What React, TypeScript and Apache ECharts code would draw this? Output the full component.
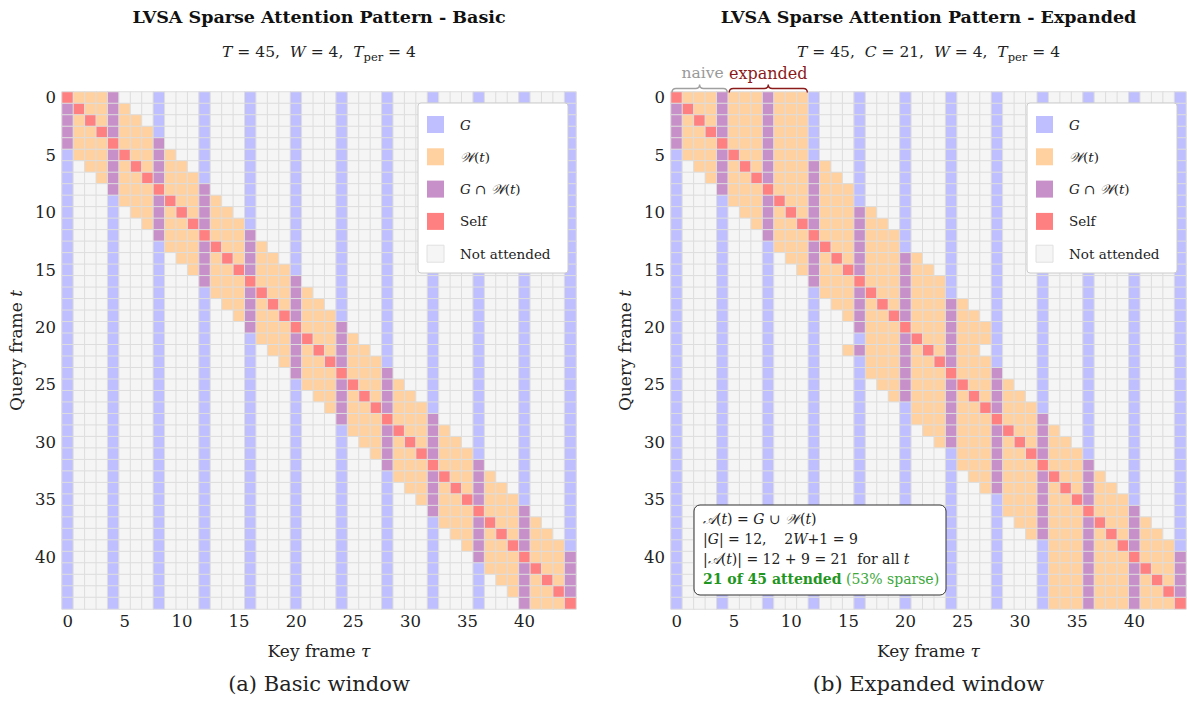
import React, { useEffect, useRef } from "react";
import * as echarts from "echarts";

// ---------- data ----------
const frameLabels: string[] = Array.from({ length: 45 }, (_, i) => String(i));
const tickLabels = ["0", "5", "10", "15", "20", "25", "30", "35", "40"];
const globalFrames = [0, 4, 8, 12, 16, 20, 24, 28, 32, 36, 40, 44];

// basic window [t-W, t+W] clipped, per query frame t
const basicStart = [0, 0, 0, 0, 0, 1, 2, 3, 4, 5, 6, 7, 8, 9, 10, 11, 12, 13, 14, 15, 16, 17, 18, 19, 20, 21, 22, 23, 24, 25, 26, 27, 28, 29, 30, 31, 32, 33, 34, 35, 36, 37, 38, 39, 40];
const basicEnd = [4, 5, 6, 7, 8, 9, 10, 11, 12, 13, 14, 15, 16, 17, 18, 19, 20, 21, 22, 23, 24, 25, 26, 27, 28, 29, 30, 31, 32, 33, 34, 35, 36, 37, 38, 39, 40, 41, 42, 43, 44, 44, 44, 44, 44];

// expanded window, per query frame t
const expandedStart = [0, 0, 0, 0, 0, 1, 2, 3, 4, 5, 6, 7, 8, 9, 10, 11, 12, 13, 14, 15, 16, 17, 15, 17, 17, 18, 19, 21, 21, 22, 23, 25, 25, 26, 27, 29, 29, 30, 31, 33, 33, 33, 33, 33, 33];
const expandedEnd = [11, 11, 11, 11, 11, 11, 13, 14, 15, 15, 17, 18, 19, 19, 21, 22, 23, 23, 25, 26, 27, 27, 26, 27, 28, 29, 30, 31, 32, 33, 34, 35, 36, 37, 38, 39, 40, 41, 42, 43, 44, 44, 44, 44, 44];

const legendLabels = ["{i|G}", "{c|𝒲}({i|t})", "{i|G} ∩ {c|𝒲}({i|t})", "Self", "Not attended"];
const cellColors = ["#f5f5f5", "#bfbfff", "#ffd0a0", "#c890c8", "#ff8080"]; // none, G, W, G∩W, self
const legendOrder = [1, 2, 3, 4, 0];

const FONT = "'DejaVu Serif', 'Liberation Serif', 'DejaVu Sans', serif";

// ---------- layout ----------
const grids = [
  { left: 62, top: 92, width: 514, height: 517 },
  { left: 671, top: 92, width: 515, height: 517 },
];

function buildCells(start: number[], end: number[]) {
  const out: number[][] = [];
  for (let t = 0; t < frameLabels.length; t++) {
    for (let k = 0; k < frameLabels.length; k++) {
      const g = globalFrames.includes(k);
      const w = k >= start[t] && k <= end[t];
      const code = k === t ? 4 : g && w ? 3 : g ? 1 : w ? 2 : 0;
      out.push([k, t, code]);
    }
  }
  return out;
}

function bracePath(x0: number, x1: number, y: number, h: number) {
  const xm = (x0 + x1) / 2;
  return (
    `M${x0} ${y + h} Q${x0} ${y} ${x0 + h} ${y} L${xm - h} ${y} Q${xm} ${y} ${xm} ${y - h} ` +
    `Q${xm} ${y} ${xm + h} ${y} L${x1 - h} ${y} Q${x1} ${y} ${x1} ${y + h}`
  );
}

const g2 = grids[1];
const cw2 = g2.width / frameLabels.length;
echarts.graphic.registerShape(
  "braceNaive",
  echarts.graphic.extendPath(bracePath(g2.left + 1, g2.left + 5 * cw2 - 1, 88.5, 4), {})
);
echarts.graphic.registerShape(
  "braceExpanded",
  echarts.graphic.extendPath(bracePath(g2.left + 5 * cw2 + 1, g2.left + 12 * cw2 - 1, 88.5, 4), {})
);

const mathRich = (size: number, color = "#222") => ({
  i: { fontStyle: "italic" as const, fontFamily: FONT, fontSize: size, fill: color, lineHeight: size + 6 },
  c: { fontStyle: "italic" as const, fontFamily: FONT, fontSize: size, fill: color, lineHeight: size + 6 },
  s: { fontFamily: FONT, fontSize: size - 4, fill: color, lineHeight: size - 2, verticalAlign: "bottom" as const },
});

function textEl(x: number, y: number, text: string, size: number, opts: any = {}) {
  return {
    type: "text",
    x,
    y,
    z: 100,
    silent: true,
    style: {
      text,
      fontFamily: FONT,
      fontSize: size,
      fontWeight: opts.bold ? "bold" : "normal",
      fill: opts.color || "#222",
      align: opts.align || "center",
      verticalAlign: "middle",
      lineHeight: size + 6,
      rich: opts.rich || mathRich(size, opts.color || "#222"),
    },
  };
}

function legendGroup(boxLeft: number) {
  const top = 103;
  const children: any[] = [
    {
      type: "rect",
      z: 100,
      shape: { x: boxLeft, y: top, width: 150, height: 170, r: 3 },
      style: { fill: "#ffffff", stroke: "#cccccc", lineWidth: 1 },
    },
  ];
  legendOrder.forEach((code, i) => {
    const cy = top + 21.5 + i * 32.3;
    children.push({
      type: "rect",
      z: 101,
      shape: { x: boxLeft + 9, y: cy - 8.5, width: 17, height: 17 },
      style: { fill: cellColors[code], stroke: code === 0 ? "#e0e0e0" : "none", lineWidth: 1 },
    });
    const t = textEl(boxLeft + 42, cy, legendLabels[i], 13.5, { align: "left" });
    t.z = 101;
    children.push(t);
  });
  return { type: "group", z: 100, silent: true, children };
}

function buildOption() {
  const cellsA = buildCells(basicStart, basicEnd);
  const cellsB = buildCells(expandedStart, expandedEnd);
  const centers = grids.map((g) => g.left + g.width / 2);

  const axisNameStyle = {
    fontFamily: FONT,
    fontSize: 17,
    color: "#222",
    rich: { i: { fontStyle: "italic" as const, fontFamily: FONT, fontSize: 17, color: "#222" } },
  };

  const infoSize = 14;

  return {
    animation: false,
    backgroundColor: "#ffffff",
    grid: grids.map((g) => ({ ...g, containLabel: false })),
    xAxis: grids.map((_, i) => ({
      type: "category",
      gridIndex: i,
      data: frameLabels,
      axisLine: { show: false },
      axisTick: { show: false },
      splitLine: { show: false },
      axisLabel: {
        interval: (_idx: number, value: string) => tickLabels.includes(value),
        fontFamily: FONT,
        fontSize: 16.5,
        color: "#222",
        margin: 4,
      },
      name: "Key frame {i|τ}",
      nameLocation: "middle",
      nameGap: 33,
      nameTextStyle: axisNameStyle,
    })),
    yAxis: grids.map((_, i) => ({
      type: "category",
      gridIndex: i,
      inverse: true,
      data: frameLabels,
      axisLine: { show: false },
      axisTick: { show: false },
      splitLine: { show: false },
      axisLabel: {
        interval: (_idx: number, value: string) => tickLabels.includes(value),
        fontFamily: FONT,
        fontSize: 16.5,
        color: "#222",
        margin: 6,
      },
      name: "Query frame {i|t}",
      nameLocation: "middle",
      nameGap: 38,
      nameRotate: 90,
      nameTextStyle: axisNameStyle,
    })),
    visualMap: [
      {
        type: "piecewise",
        show: false,
        dimension: 2,
        seriesIndex: [0, 1],
        pieces: cellColors.map((c, i) => ({ value: i, color: c })),
      },
    ],
    series: [cellsA, cellsB].map((d, i) => ({
      type: "heatmap",
      xAxisIndex: i,
      yAxisIndex: i,
      data: d,
      silent: true,
      itemStyle: { borderColor: "#dddddd", borderWidth: 1 },
      emphasis: { disabled: true },
    })),
    graphic: [
      textEl(centers[0], 17, "LVSA Sparse Attention Pattern - Basic", 17.5, { bold: true, color: "#111" }),
      textEl(centers[1], 17, "LVSA Sparse Attention Pattern - Expanded", 17.5, { bold: true, color: "#111" }),
      textEl(centers[0], 52, "{i|T} = 45,  {i|W} = 4,  {i|T}{s|per} = 4", 15.5),
      textEl(centers[1], 52, "{i|T} = 45,  {i|C} = 21,  {i|W} = 4,  {i|T}{s|per} = 4", 15.5),
      textEl(centers[0], 684, "(a) Basic window", 21),
      textEl(centers[1], 684, "(b) Expanded window", 21),
      legendGroup(418),
      legendGroup(1027),
      { type: "braceNaive", z: 100, silent: true, style: { fill: "none", stroke: "#a0a0a0", lineWidth: 1.4 } },
      { type: "braceExpanded", z: 100, silent: true, style: { fill: "none", stroke: "#8b1a1a", lineWidth: 1.4 } },
      textEl(g2.left + 2.5 * cw2 + 3, 73, "naive", 15.5, { color: "#999999" }),
      textEl(g2.left + 8.5 * cw2, 73, "expanded", 16, { color: "#8b1a1a" }),
      {
        type: "rect",
        z: 100,
        silent: true,
        shape: { x: 694, y: 505, width: 252, height: 90, r: 6 },
        style: { fill: "#ffffff", stroke: "#333333", lineWidth: 1 },
      },
      textEl(703, 519, "{c|𝒜}({i|t}) = {i|G} ∪ {c|𝒲}({i|t})", infoSize, { align: "left" }),
      textEl(703, 539, "|{i|G}| = 12,    2{i|W}+1 = 9", infoSize, { align: "left" }),
      textEl(703, 559, "|{c|𝒜}({i|t})| = 12 + 9 = 21  for all {i|t}", infoSize, { align: "left" }),
      textEl(703, 579, "{b|21 of 45 attended} {g|(53% sparse)}", infoSize, {
        align: "left",
        color: "#229a22",
        rich: {
          b: { fontFamily: FONT, fontSize: infoSize, fontWeight: "bold", fill: "#1f961f" },
          g: { fontFamily: FONT, fontSize: infoSize, fill: "#3aa83a" },
        },
      }),
    ],
  };
}

export default function App() {
  const ref = useRef<HTMLDivElement>(null);
  useEffect(() => {
    if (!ref.current) return;
    const chart = echarts.init(ref.current, undefined, { renderer: "svg" });
    chart.setOption(buildOption() as any);
    return () => chart.dispose();
  }, []);
  return (
    <div
      ref={ref}
      style={{ position: "fixed", left: 0, top: 0, width: 1189, height: 715, background: "#fff" }}
    />
  );
}
